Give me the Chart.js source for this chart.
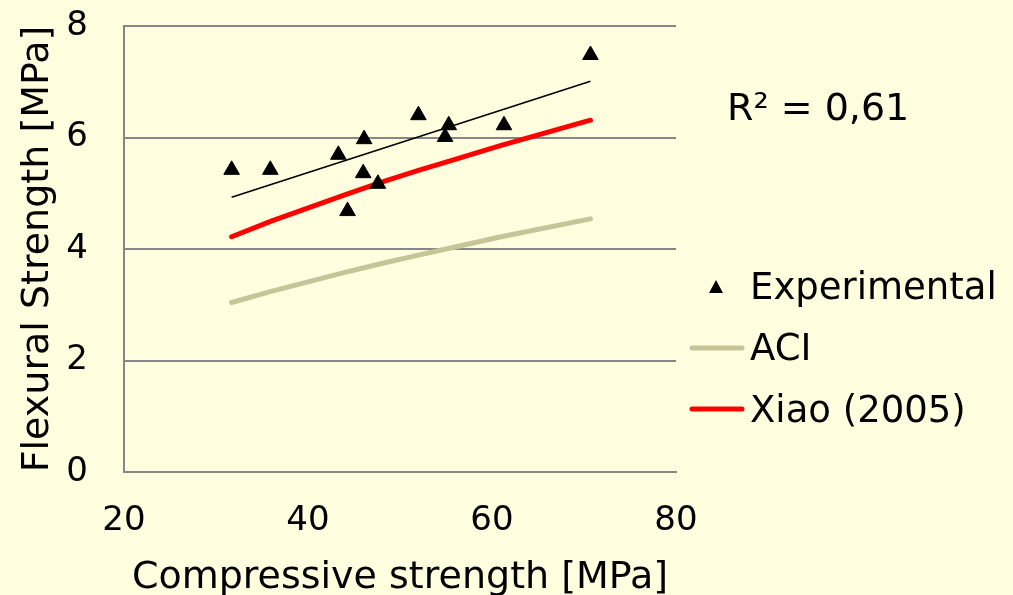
<!DOCTYPE html>
<html>
<head>
<meta charset="utf-8">
<script src="https://cdn.jsdelivr.net/npm/chart.js@4.4.1/dist/chart.umd.min.js"></script>
<style>
  body { margin: 0; background: #FFFFE0; }
  #wrap { width: 1013px; height: 595px; position: relative; }
</style>
</head>
<body>
<div id="wrap"><canvas id="myChart"></canvas></div>
<script>
// experimental points (compressive, flexural)
var expX = [31.7, 35.9, 43.3, 44.3, 46.0, 46.1, 47.6, 52.0, 54.9, 55.3, 61.3, 70.7];
var expY = [5.42, 5.42, 5.69, 4.68, 5.36, 5.97, 5.17, 6.40, 6.01, 6.22, 6.22, 7.48];

// model curves
var curveX = [31.7, 36, 44, 48, 52, 55, 61, 70.7];
var aciY = [3.04, 3.24, 3.58, 3.74, 3.89, 4.00, 4.22, 4.54];
var xiaoY = [4.22, 4.50, 4.97, 5.20, 5.41, 5.56, 5.86, 6.31];

// linear trend of the experimental points
var trendX = [31.7, 70.7];
var trendY = [4.93, 7.01];

var xTicks = [20, 40, 60, 80];
var yTicks = [0, 2, 4, 6, 8];
var r2Label = 'R² = 0,61';

var FONT = 'DejaVu Sans';
var gridColor = '#868686';
var aciColor = '#C5C598';
var xiaoColor = '#FF0000';

function pts(xs, ys) {
  return xs.map(function (x, i) { return { x: x, y: ys[i] }; });
}

// legend + R² drawn next to the plot
var sidePlugin = {
  id: 'side',
  afterDraw: function (chart) {
    var ctx = chart.ctx;
    var a = chart.chartArea;
    ctx.save();
    ctx.fillStyle = '#000';
    ctx.textBaseline = 'middle';
    ctx.font = '38px ' + FONT;
    ctx.fillText(r2Label, a.right + 51, 110);

    ctx.font = '37px ' + FONT;
    var lx = a.right + 16;
    var tx = a.right + 74;
    // experimental
    ctx.beginPath();
    ctx.moveTo(lx + 24, 280);
    ctx.lineTo(lx + 31, 293);
    ctx.lineTo(lx + 17, 293);
    ctx.closePath();
    ctx.fill();
    ctx.fillText('Experimental', tx, 289);
    // ACI
    ctx.lineCap = 'round';
    ctx.lineWidth = 5;
    ctx.strokeStyle = aciColor;
    ctx.beginPath();
    ctx.moveTo(lx, 348);
    ctx.lineTo(lx + 50, 348);
    ctx.stroke();
    ctx.fillText('ACI', tx, 350);
    // Xiao
    ctx.strokeStyle = xiaoColor;
    ctx.beginPath();
    ctx.moveTo(lx, 409);
    ctx.lineTo(lx + 50, 409);
    ctx.stroke();
    ctx.fillText('Xiao (2005)', tx, 412);
    ctx.restore();
  }
};

var config = {
  type: 'scatter',
  data: {
    datasets: [
      {
        label: 'Experimental',
        data: pts(expX, expY),
        pointStyle: 'triangle',
        pointRadius: 9,
        backgroundColor: '#000',
        borderColor: '#000',
        borderWidth: 1
      },
      {
        label: 'Trend',
        data: pts(trendX, trendY),
        showLine: true,
        borderColor: '#000',
        borderWidth: 1.6,
        pointRadius: 0
      },
      {
        label: 'ACI',
        data: pts(curveX, aciY),
        showLine: true,
        borderColor: aciColor,
        borderWidth: 5,
        borderCapStyle: 'round',
        pointRadius: 0
      },
      {
        label: 'Xiao (2005)',
        data: pts(curveX, xiaoY),
        showLine: true,
        borderColor: xiaoColor,
        borderWidth: 5,
        borderCapStyle: 'round',
        pointRadius: 0
      }
    ]
  },
  options: {
    responsive: true,
    maintainAspectRatio: false,
    animation: false,
    layout: { padding: { top: 26, right: 337, left: 0, bottom: 0 } },
    plugins: {
      legend: { display: false },
      tooltip: { enabled: false }
    },
    scales: {
      x: {
        type: 'linear',
        min: 20,
        max: 80,
        afterBuildTicks: function (axis) {
          axis.ticks = xTicks.map(function (v) { return { value: v }; });
        },
        afterFit: function (axis) {
          axis.height = 123;
          axis.paddingLeft = 0;
          axis.paddingRight = 0;
        },
        grid: { display: false, drawTicks: false },
        border: { display: true, color: gridColor, width: 2 },
        ticks: { color: '#000', padding: 29, font: { family: FONT, size: 34 } },
        title: {
          display: true,
          text: 'Compressive strength [MPa]',
          color: '#000',
          padding: { top: 0, bottom: -6 },
          font: { family: FONT, size: 38 }
        }
      },
      y: {
        type: 'linear',
        min: 0,
        max: 8,
        afterBuildTicks: function (axis) {
          axis.ticks = yTicks.map(function (v) { return { value: v }; });
        },
        afterFit: function (axis) {
          axis.width = 124;
          axis.paddingTop = 0;
          axis.paddingBottom = 0;
        },
        grid: { color: gridColor, lineWidth: 2, drawTicks: false },
        border: { display: true, color: gridColor, width: 2 },
        ticks: { color: '#000', padding: 36, font: { family: FONT, size: 34 } },
        title: {
          display: true,
          text: 'Flexural Strength [MPa]',
          color: '#000',
          padding: { top: 15, bottom: 0 },
          font: { family: FONT, size: 38 }
        }
      }
    }
  },
  plugins: [sidePlugin]
};

var chart = new Chart(document.getElementById('myChart'), config);
</script>
</body>
</html>
